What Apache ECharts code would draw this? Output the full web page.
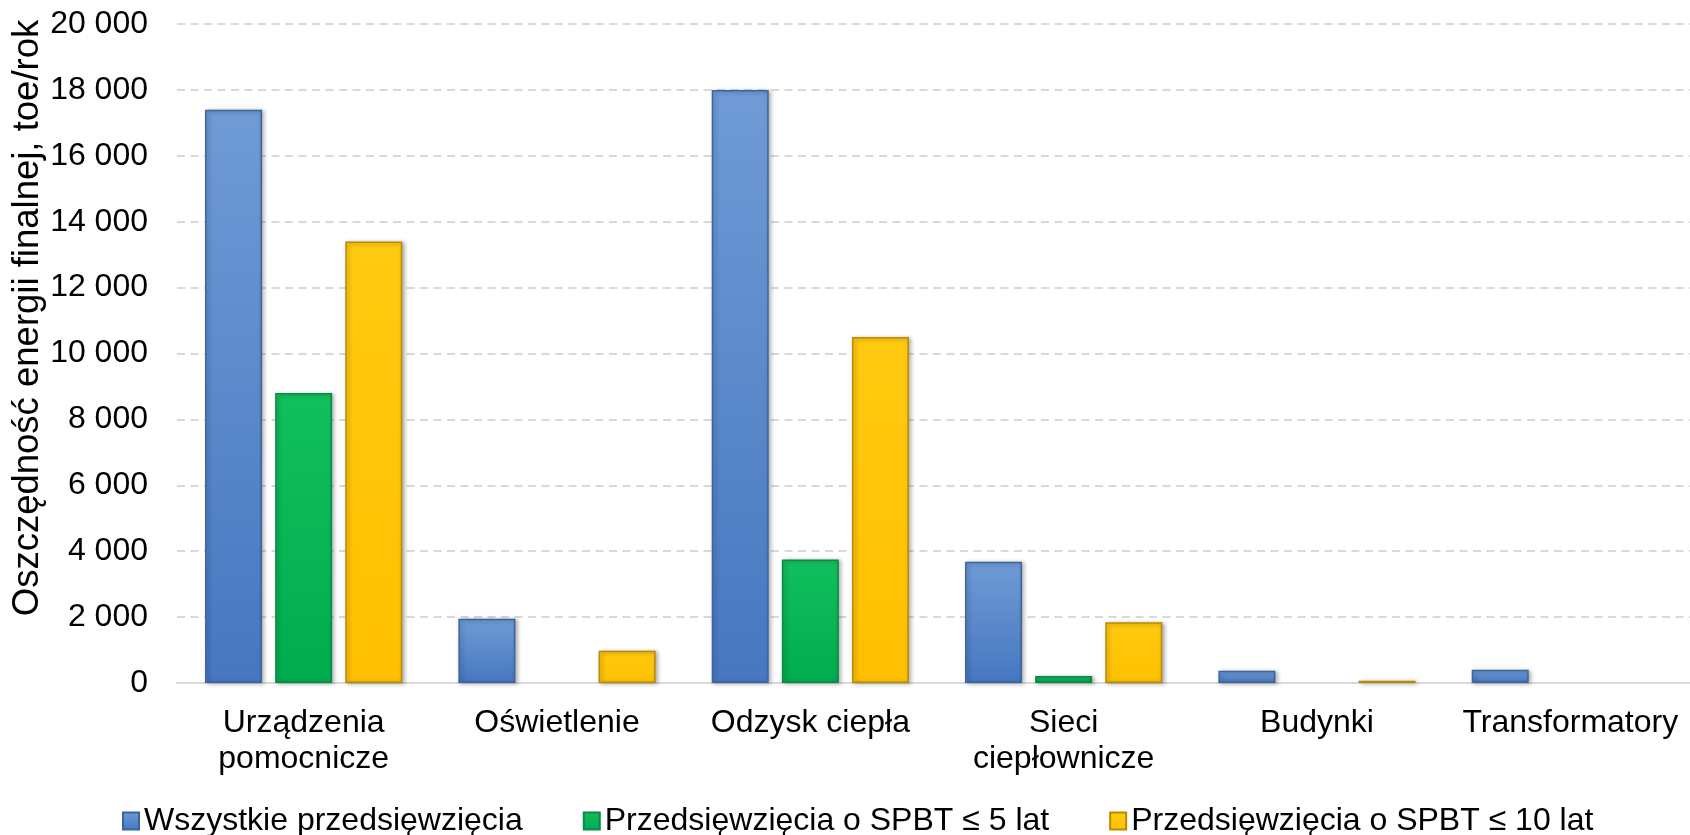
<!DOCTYPE html>
<html>
<head>
<meta charset="utf-8">
<script src="https://cdn.jsdelivr.net/npm/echarts@6/dist/echarts.min.js"></script>
<style>
html,body{margin:0;padding:0;background:#fff;overflow:hidden;width:1690px;height:835px;}
#chart{width:1697px;height:835px;}
</style>
</head>
<body>
<div id="chart"></div>
<script>
const categories = ['Urządzenia\npomocnicze', 'Oświetlenie', 'Odzysk ciepła', 'Sieci\nciepłownicze', 'Budynki', 'Transformatory'];
const seriesNames = ['Wszystkie przedsięwzięcia', 'Przedsięwzięcia o SPBT ≤ 5 lat', 'Przedsięwzięcia o SPBT ≤ 10 lat'];
const allProjects = [17400, 1950, 18000, 3680, 370, 400];
const spbt5 = [8800, 0, 3750, 210, 0, 0];
const spbt10 = [13400, 980, 10500, 1840, 70, 0];
const yMin = 0, yMax = 20000, yStep = 2000;
const yAxisTitle = 'Oszczędność energii finalnej, toe/rok';

const FONT = '"Liberation Sans", Arial, sans-serif';

function grad(top, bottom) {
  return new echarts.graphic.LinearGradient(0, 0, 0, 1, [
    { offset: 0, color: top },
    { offset: 1, color: bottom }
  ]);
}
const styles = [
  { color: grad('#6f9bd6', '#4677c0'), borderColor: '#3a649c' },
  { color: grad('#12bf5e', '#00ac4e'), borderColor: '#0a8a45' },
  { color: grad('#ffca10', '#ffc000'), borderColor: '#b88c00' }
];
const dataSets = [allProjects, spbt5, spbt10];

const chart = echarts.init(document.getElementById('chart'), null, { renderer: 'canvas' });
chart.setOption({
  animation: false,
  backgroundColor: '#ffffff',
  textStyle: { fontFamily: FONT },
  grid: { left: 177, right: 0, top: 24, bottom: 152, containLabel: false },
  graphic: [{
    type: 'text',
    x: 28,
    y: 318,
    rotation: Math.PI / 2,
    style: {
      text: yAxisTitle,
      font: '36.5px ' + FONT,
      fill: '#000',
      align: 'center',
      verticalAlign: 'middle'
    }
  }],
  legend: {
    data: seriesNames,
    icon: 'rect',
    left: 117,
    top: 800,
    itemWidth: 16,
    itemHeight: 17,
    itemGap: 60,
    textStyle: { fontSize: 32, color: '#000', fontFamily: FONT }
  },
  xAxis: {
    type: 'category',
    data: categories,
    axisTick: { show: false },
    axisLine: { show: true, lineStyle: { color: '#d9d9d9', width: 2 } },
    axisLabel: { fontSize: 32, color: '#000', lineHeight: 36, margin: 22, fontFamily: FONT, interval: 0 }
  },
  yAxis: {
    type: 'value',
    min: yMin, max: yMax, interval: yStep,
    axisLine: { show: false },
    axisTick: { show: false },
    axisLabel: {
      fontSize: 32, color: '#000', margin: 29, fontFamily: FONT,
      formatter: v => String(v).replace(/\B(?=(\d{3})+(?!\d))/g, ' ')
    },
    splitLine: { show: true, lineStyle: { color: '#d9d9d9', width: 2, type: [8, 5.5] } }
  },
  series: seriesNames.map((name, i) => ({
    name: name,
    type: 'bar',
    barWidth: 57,
    barGap: '23%',
    data: dataSets[i].map(v => (v === 0 ? null : v)),
    itemStyle: {
      color: styles[i].color,
      borderColor: styles[i].borderColor,
      borderWidth: 1.5,
      shadowColor: 'rgba(0,0,0,0.3)',
      shadowBlur: 4,
      shadowOffsetX: 2,
      shadowOffsetY: 1
    }
  }))
});
</script>
</body>
</html>
